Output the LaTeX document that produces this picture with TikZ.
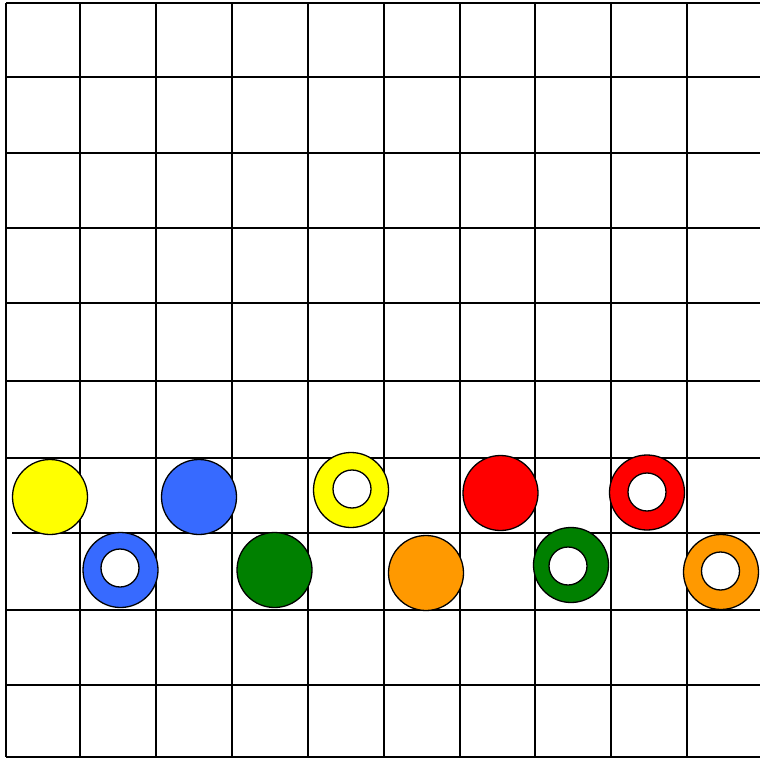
\documentclass[tikz,border=0pt]{standalone}
\definecolor{cyel}{HTML}{FFFF00}
\definecolor{cblue}{HTML}{376AFF}
\definecolor{cgreen}{HTML}{008000}
\definecolor{corange}{HTML}{FF9900}
\definecolor{cred}{HTML}{FF0000}
\begin{document}
\begin{tikzpicture}[x=1pt,y=-1pt,
  vline/.style={line width=2.8pt},
  hline/.style={line width=1.8pt},
  disc/.style={circle,draw=black,line width=1.3pt,minimum size=75pt,inner sep=0pt},
  hole/.style={circle,draw=black,fill=white,line width=1.3pt,minimum size=38pt,inner sep=0pt}]
\useasboundingbox (0,0) rectangle (760,759);
\fill[white] (0,0) rectangle (760,759);
% horizontal lines
\draw[line width=2.8pt] (6,3) -- (760,3);
\foreach \y in {77,153,228,303,381,458,610,685}
  \draw[hline] (6,\y) -- (760,\y);
\draw[hline] (12,533) -- (760,533);
\draw[line width=2.4pt] (6,757) -- (760,757);
% vertical lines
\foreach \x in {6,80,156,232,308,384,460,535,611,687}
  \draw[vline] (\x,3) -- (\x,757);
% discs
\node[disc,fill=cyel] (y1) at (50,497) {};
\node[disc,fill=cblue] (b1) at (120.5,570) {};
\node[hole] (b1h) at (120,568) {};
\node[disc,fill=cblue] (b2) at (199,497) {};
\node[disc,fill=cgreen] (g1) at (274.5,570) {};
\node[disc,fill=cyel] (y2) at (351,490) {};
\node[hole] (y2h) at (352,489) {};
\node[disc,fill=corange] (o1) at (426,573) {};
\node[disc,fill=cred] (r1) at (500.5,493) {};
\node[disc,fill=cgreen] (g2) at (571,565) {};
\node[hole] (g2h) at (568,566) {};
\node[disc,fill=cred] (r2) at (647,492.5) {};
\node[hole] (r2h) at (647,492) {};
\node[disc,fill=corange] (o2) at (721,572) {};
\node[hole] (o2h) at (720.5,571) {};
\end{tikzpicture}
\end{document}
